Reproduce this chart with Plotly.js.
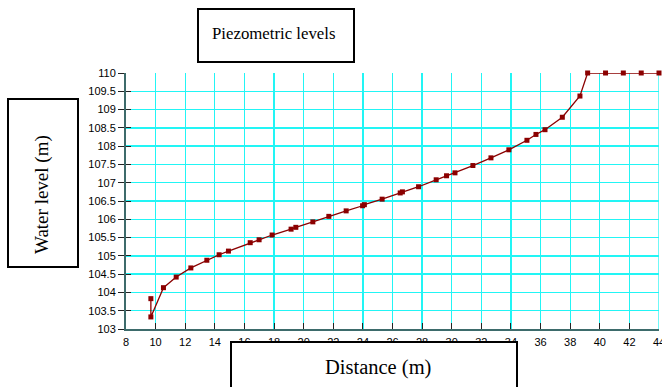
<!DOCTYPE html>
<html>
<head>
<meta charset="utf-8">
<script src="https://cdn.plot.ly/plotly-3.0.1.min.js"></script>
<style>html,body{margin:0;padding:0;background:#fff;}#chart{width:662px;height:387px;}</style>
</head>
<body>
<div id="chart"></div>
<script>
var distance = [9.68, 9.68, 10.53, 11.39, 12.38, 13.46, 14.29, 14.92, 16.39, 16.99, 17.87, 19.15, 19.47, 20.62, 21.70, 22.87, 23.98, 24.10, 25.30, 26.52, 26.67, 27.76, 28.95, 29.65, 30.22, 31.43, 32.65, 33.86, 35.08, 35.69, 36.30, 37.47, 38.66, 39.18, 40.39, 41.59, 42.80, 44.0];
var level = [103.83, 103.33, 104.13, 104.42, 104.67, 104.88, 105.03, 105.13, 105.36, 105.44, 105.57, 105.73, 105.78, 105.93, 106.08, 106.23, 106.37, 106.40, 106.55, 106.72, 106.75, 106.89, 107.08, 107.19, 107.27, 107.47, 107.68, 107.90, 108.16, 108.32, 108.45, 108.79, 109.37, 110, 110, 110, 110, 110];
var xTicks = [8, 10, 12, 14, 16, 18, 20, 22, 24, 26, 28, 30, 32, 34, 36, 38, 40, 42, 44];
var yTicks = [103, 103.5, 104, 104.5, 105, 105.5, 106, 106.5, 107, 107.5, 108, 108.5, 109, 109.5, 110];
var titleText = "Piezometric levels";
var xTitleText = "Distance (m)";
var yTitleText = "Water level (m)";

var serif = "Liberation Serif, Times New Roman, serif";
var sans = "Liberation Sans, Arial, sans-serif";

var trace = {
  x: distance, y: level, type: "scatter", mode: "lines+markers",
  line: {color: "#8B0000", width: 1.3},
  marker: {symbol: "square", size: 5, color: "#8B0000"},
  cliponaxis: false, hoverinfo: "none"
};
var dummy = {x: [8], y: [103], yaxis: "y2", type: "scatter", mode: "none", hoverinfo: "none", showlegend: false};

function px(xp) { return (xp - 126) / 533; }
function py(yp) { return (329 - yp) / 256; }

var layout = {
  width: 662, height: 387,
  margin: {l: 126, r: 3, t: 73, b: 58},
  paper_bgcolor: "#fff", plot_bgcolor: "#fff",
  showlegend: false,
  xaxis: {
    range: [8, 44], tickvals: xTicks, ticktext: xTicks.map(String),
    ticks: "inside", ticklen: 6, tickcolor: "#222", tickwidth: 1,
    showgrid: true, gridcolor: "#22F5F5", gridwidth: 1.3,
    showline: true, linecolor: "#3D6B6B", linewidth: 2,
    zeroline: false, tickfont: {family: sans, size: 11, color: "#000"},
    ticklabeloverflow: "allow", ticklabelstandoff: 2
  },
  yaxis: {
    range: [103, 110], tickvals: yTicks, ticktext: yTicks.map(String),
    ticks: "outside", ticklen: 6, tickcolor: "#222", tickwidth: 1,
    showgrid: true, gridcolor: "#22F5F5", gridwidth: 1.3,
    showline: true, linecolor: "#3D6B6B", linewidth: 2,
    zeroline: false, tickfont: {family: sans, size: 11, color: "#000"}
  },
  yaxis2: {
    overlaying: "y", matches: "y", range: [103, 110], tickvals: yTicks,
    ticks: "inside", ticklen: 5, tickcolor: "#222", showticklabels: false,
    showgrid: false, zeroline: false, showline: false, side: "left"
  },
  shapes: [
    {type: "line", xref: "x", yref: "paper", layer: "below", x0: 44, x1: 44, y0: 0, y1: 1,
     line: {color: "#22F5F5", width: 1.3}},
    {type: "rect", xref: "paper", yref: "paper", layer: "above",
     x0: px(198), x1: px(354), y0: py(62), y1: py(9),
     line: {color: "#000", width: 2}, fillcolor: "#fff"},
    {type: "rect", xref: "paper", yref: "paper", layer: "above",
     x0: px(8), x1: px(78), y0: py(267), y1: py(99),
     line: {color: "#000", width: 2}, fillcolor: "#fff"},
    {type: "rect", xref: "paper", yref: "paper", layer: "above",
     x0: px(231), x1: px(517), y0: py(400), y1: py(342),
     line: {color: "#000", width: 2}, fillcolor: "#fff"}
  ],
  annotations: [
    {text: titleText, xref: "paper", yref: "paper", x: px(273.5), y: py(33),
     showarrow: false, xanchor: "center", yanchor: "middle", font: {family: serif, size: 16.8, color: "#000"}},
    {text: yTitleText, xref: "paper", yref: "paper", x: px(42), y: py(195),
     showarrow: false, textangle: -90, xanchor: "center", yanchor: "middle", font: {family: serif, size: 19, color: "#000"}},
    {text: xTitleText, xref: "paper", yref: "paper", x: px(377.5), y: py(367),
     showarrow: false, xanchor: "center", yanchor: "middle", font: {family: serif, size: 20.5, color: "#000"}}
  ]
};
Plotly.newPlot("chart", [trace, dummy], layout, {staticPlot: true, displayModeBar: false});
</script>
</body>
</html>
